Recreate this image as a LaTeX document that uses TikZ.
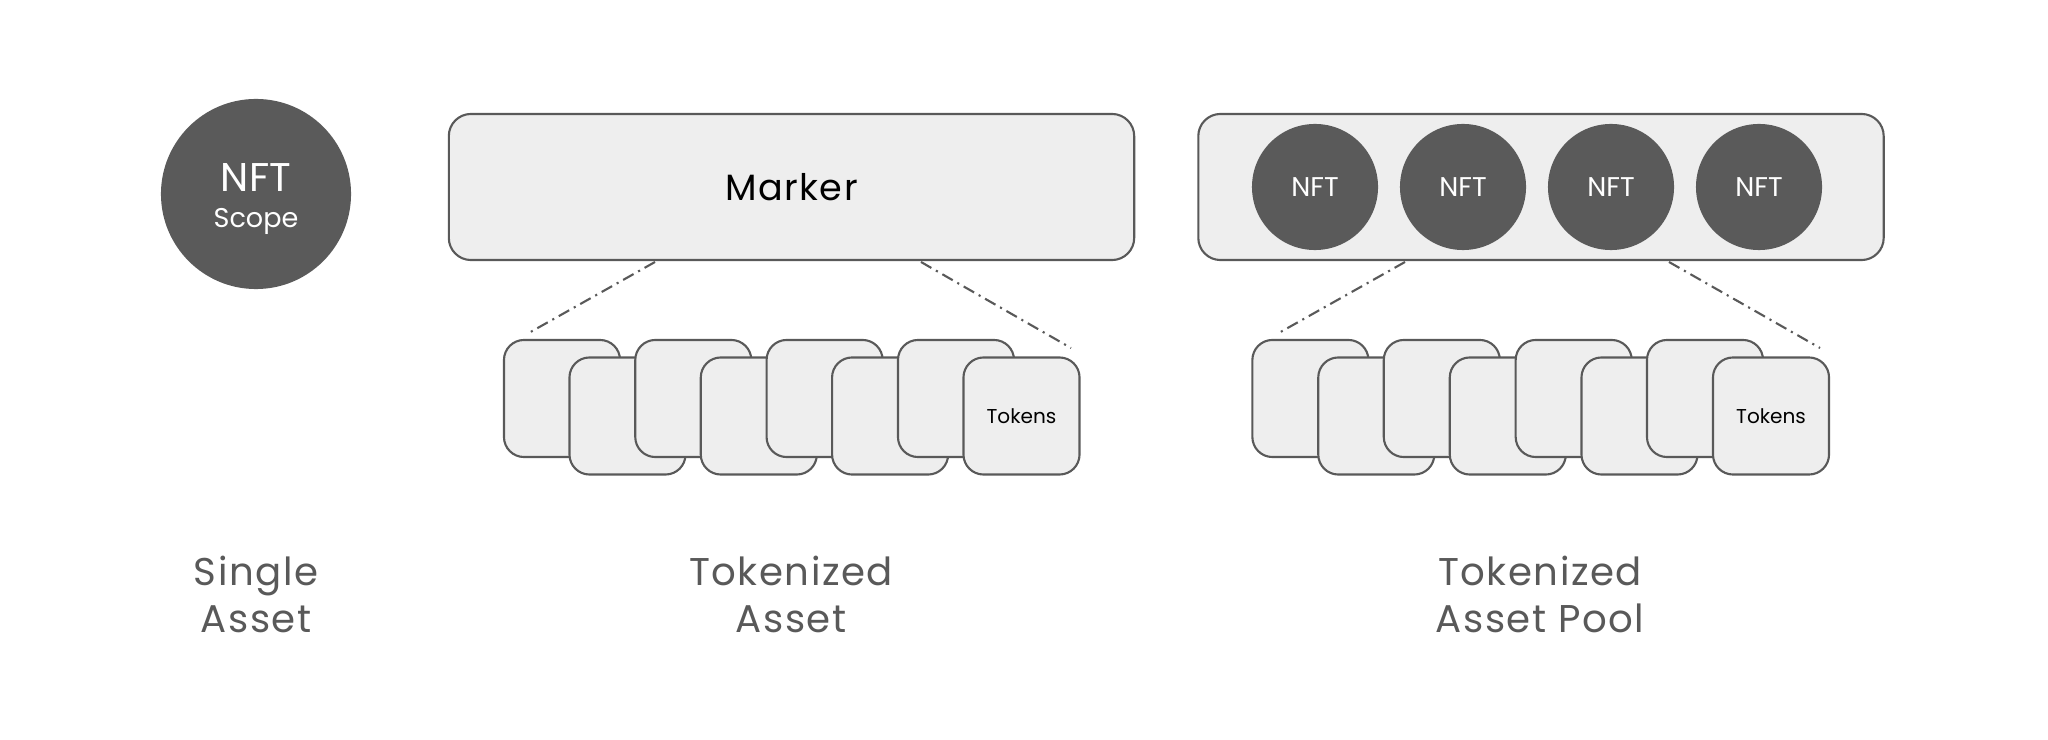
\documentclass[tikz,border=0pt]{standalone}
\usepackage{fontspec}
\setmainfont{Poppins}
\newfontfamily\spreadfont[LetterSpace=4]{Poppins}
\usepackage{xcolor}
\definecolor{ink}{RGB}{89, 89, 89}
\definecolor{disc}{RGB}{90, 90, 90}
\definecolor{pane}{RGB}{238, 238, 238}

\tikzset{
  panel/.style={draw=ink, fill=pane, line width=0.6pt, rounded corners=6.3pt,
    minimum width=6.85cm, minimum height=1.46cm, inner sep=0pt},
  nftdisc/.style={circle, fill=disc, inner sep=0pt, text=white},
  card/.style={draw=ink, fill=pane, line width=0.6pt, rounded corners=5.7pt,
    minimum width=1.16cm, minimum height=1.17cm, inner sep=0pt},
  guide/.style={draw=ink, line width=0.6pt,
    dash pattern=on 3.4pt off 1.5pt on 0.6pt off 1.5pt},
  caption/.style={text=ink, anchor=base, font=\spreadfont\fontsize{11}{13}\selectfont}
}

\begin{document}
\begin{tikzpicture}[x=0.01cm, y=-0.01cm]
      \useasboundingbox (0, 0) rectangle (2048, 740);
      % single asset
      \node[nftdisc, minimum size=1.9cm] (single) at (256, 194) {};
      \node[anchor=base, text=white, font=\fontsize{11.4}{13}\selectfont] (singlenft) at (256, 192) {NFT};
      \node[anchor=base, text=white, font=\fontsize{7.7}{9}\selectfont] (singlescope) at (256, 228) {Scope};
      % tokenized asset
      \node[panel, font=\spreadfont\fontsize{10.4}{12}\selectfont] (marker) at (791.5, 187) {Marker};
      \node[card] (mb1) at (562, 398.5) {};
      \node[card] (mf1) at (627.5, 416) {};
      \node[card] (mb2) at (693.3, 398.5) {};
      \node[card] (mf2) at (758.8, 416) {};
      \node[card] (mb3) at (824.6, 398.5) {};
      \node[card] (mf3) at (890.1, 416) {};
      \node[card] (mb4) at (956, 398.5) {};
      \node[card, font=\fontsize{5.7}{7}\selectfont] (mf4) at (1021.5, 416) {Tokens};
      \coordinate (mkL) at (655, 262);
      \coordinate (mkR) at (921, 262);
      \coordinate (mtL) at (527, 334);
      \coordinate (mtR) at (1071, 348);
      \draw[guide] (mkL) -- (mtL);
      \draw[guide] (mkR) -- (mtR);
      % tokenized asset pool
      \node[panel] (pool) at (1541, 187) {};
      \node[nftdisc, minimum size=1.26cm, font=\fontsize{7.7}{9}\selectfont] (nft1) at (1315, 187) {NFT};
      \node[nftdisc, minimum size=1.26cm, font=\fontsize{7.7}{9}\selectfont] (nft2) at (1463, 187) {NFT};
      \node[nftdisc, minimum size=1.26cm, font=\fontsize{7.7}{9}\selectfont] (nft3) at (1611, 187) {NFT};
      \node[nftdisc, minimum size=1.26cm, font=\fontsize{7.7}{9}\selectfont] (nft4) at (1759, 187) {NFT};
      \node[card] (pb1) at (1310.4, 398.5) {};
      \node[card] (pf1) at (1376.3, 416) {};
      \node[card] (pb2) at (1441.8, 398.5) {};
      \node[card] (pf2) at (1507.8, 416) {};
      \node[card] (pb3) at (1573.7, 398.5) {};
      \node[card] (pf3) at (1639.5, 416) {};
      \node[card] (pb4) at (1705, 398.5) {};
      \node[card, font=\fontsize{5.7}{7}\selectfont] (pf4) at (1771, 416) {Tokens};
      \coordinate (pkL) at (1405, 262);
      \coordinate (pkR) at (1669, 262);
      \coordinate (ptL) at (1277, 334);
      \coordinate (ptR) at (1820, 348);
      \draw[guide] (pkL) -- (ptL);
      \draw[guide] (pkR) -- (ptR);
      % captions
      \node[caption] (singleA) at (256, 585) {Single};
      \node[caption] (singleB) at (256, 633) {Asset};
      \node[caption] (tokA) at (791, 585) {Tokenized};
      \node[caption] (tokB) at (791, 633) {Asset};
      \node[caption] (poolA) at (1540, 585) {Tokenized};
      \node[caption] (poolB) at (1540, 633) {Asset Pool};
    \end{tikzpicture}
\end{document}
